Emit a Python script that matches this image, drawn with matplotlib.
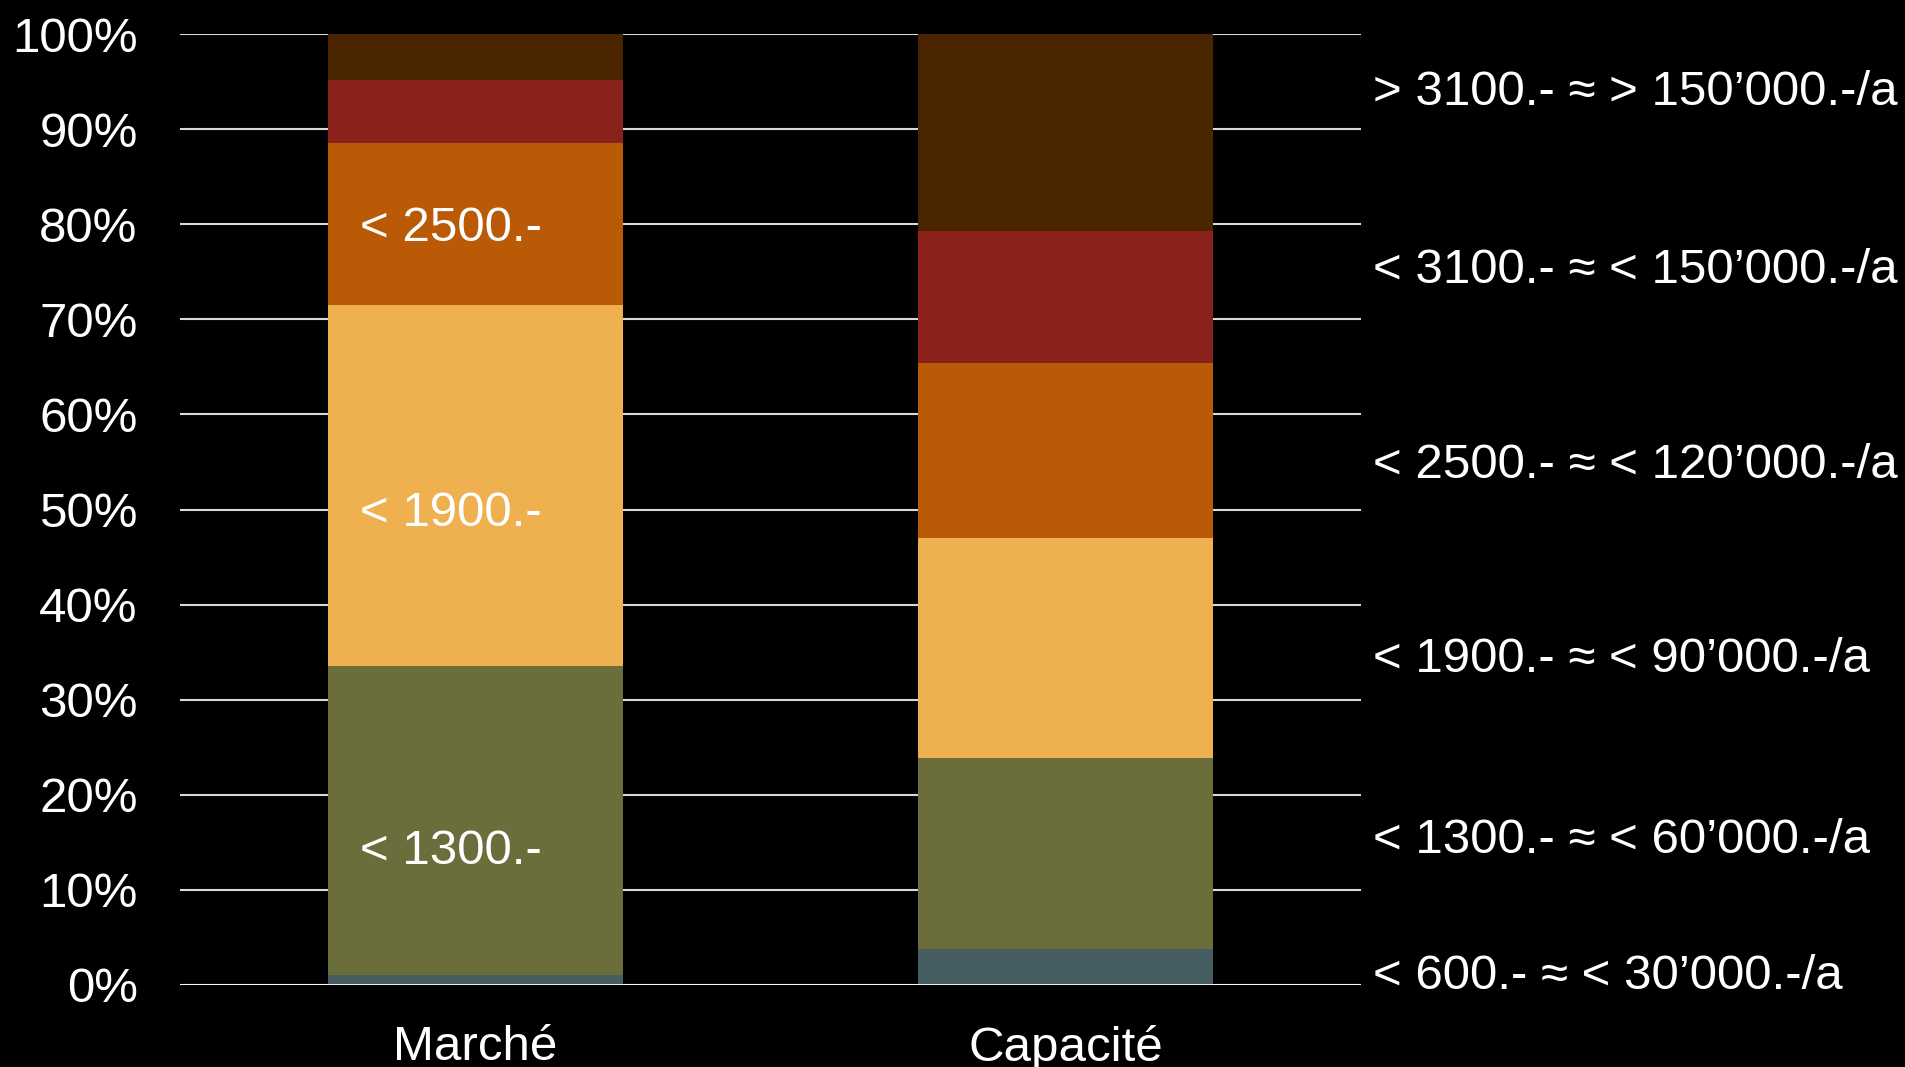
import matplotlib
matplotlib.use("Agg")
import matplotlib.pyplot as plt
import numpy as np

plt.rcParams['font.family'] = ['Liberation Sans', 'DejaVu Sans']

# Share of households per monthly rent bracket (%)
categories = ["Marché", "Capacité"]
brackets = ["< 600.-", "< 1300.-", "< 1900.-", "< 2500.-", "< 3100.-", "> 3100.-"]
marche = [1.0, 32.5, 38.0, 17.0, 6.7, 4.8]
capacite = [3.8, 20.1, 23.1, 18.4, 13.9, 20.7]
colors = ["#465E61", "#6B6E3A", "#EFB04F", "#BA5A06", "#8A221B", "#4B2500"]

# Bracket labels on the right: monthly rent ≈ yearly income
side_labels = [
    "< 600.- ≈ < 30’000.-/a",
    "< 1300.- ≈ < 60’000.-/a",
    "< 1900.- ≈ < 90’000.-/a",
    "< 2500.- ≈ < 120’000.-/a",
    "< 3100.- ≈ < 150’000.-/a",
    "> 3100.- ≈ > 150’000.-/a",
]
side_label_y = [0.85, 15.15, 34.25, 54.65, 75.15, 93.85]

# Labels written inside the Marché bar
inner_labels = ["< 1300.-", "< 1900.-", "< 2500.-"]
inner_label_y = [14.05, 49.55, 79.55]

FS = 35.5

fig = plt.figure(figsize=(19.05, 10.67), dpi=100, facecolor="black")
ax = fig.add_axes([180 / 1905, 82 / 1067, (1361 - 180) / 1905, (985 - 34) / 1067])
ax.set_facecolor("black")

x = np.arange(len(categories))
data = np.array([marche, capacite]).T
bottom = np.zeros(len(categories))
for vals, col in zip(data, colors):
    ax.bar(x, vals, width=0.5, bottom=bottom, color=col, zorder=2, linewidth=0)
    bottom += vals

ax.set_xlim(-0.5, 1.5)
ax.set_ylim(0, 100)
ax.set_yticks(np.arange(0, 101, 10))
ax.set_yticklabels([f"{v}%" for v in range(0, 101, 10)])
ax.yaxis.grid(True, color="#D9D9D9", linewidth=1.5, zorder=0)
ax.set_axisbelow(True)
ax.axhline(0, color="white", linewidth=2, zorder=3)

ax.set_xticks(x)
ax.set_xticklabels(categories)
ax.tick_params(axis="both", length=0, colors="white", labelsize=FS)
ax.tick_params(axis="y", pad=30.5)
ax.tick_params(axis="x", pad=29)
for s in ax.spines.values():
    s.set_visible(False)

for t, yv in zip(inner_labels, inner_label_y):
    ax.text(-0.196, yv, t, color="white", fontsize=FS, va="center", ha="left", zorder=4)

for t, yv in zip(side_labels, side_label_y):
    ax.text(1.52, yv, t, color="white", fontsize=FS, va="center", ha="left",
            clip_on=False, zorder=4)

fig.savefig("out.png", dpi=100, facecolor="black")
